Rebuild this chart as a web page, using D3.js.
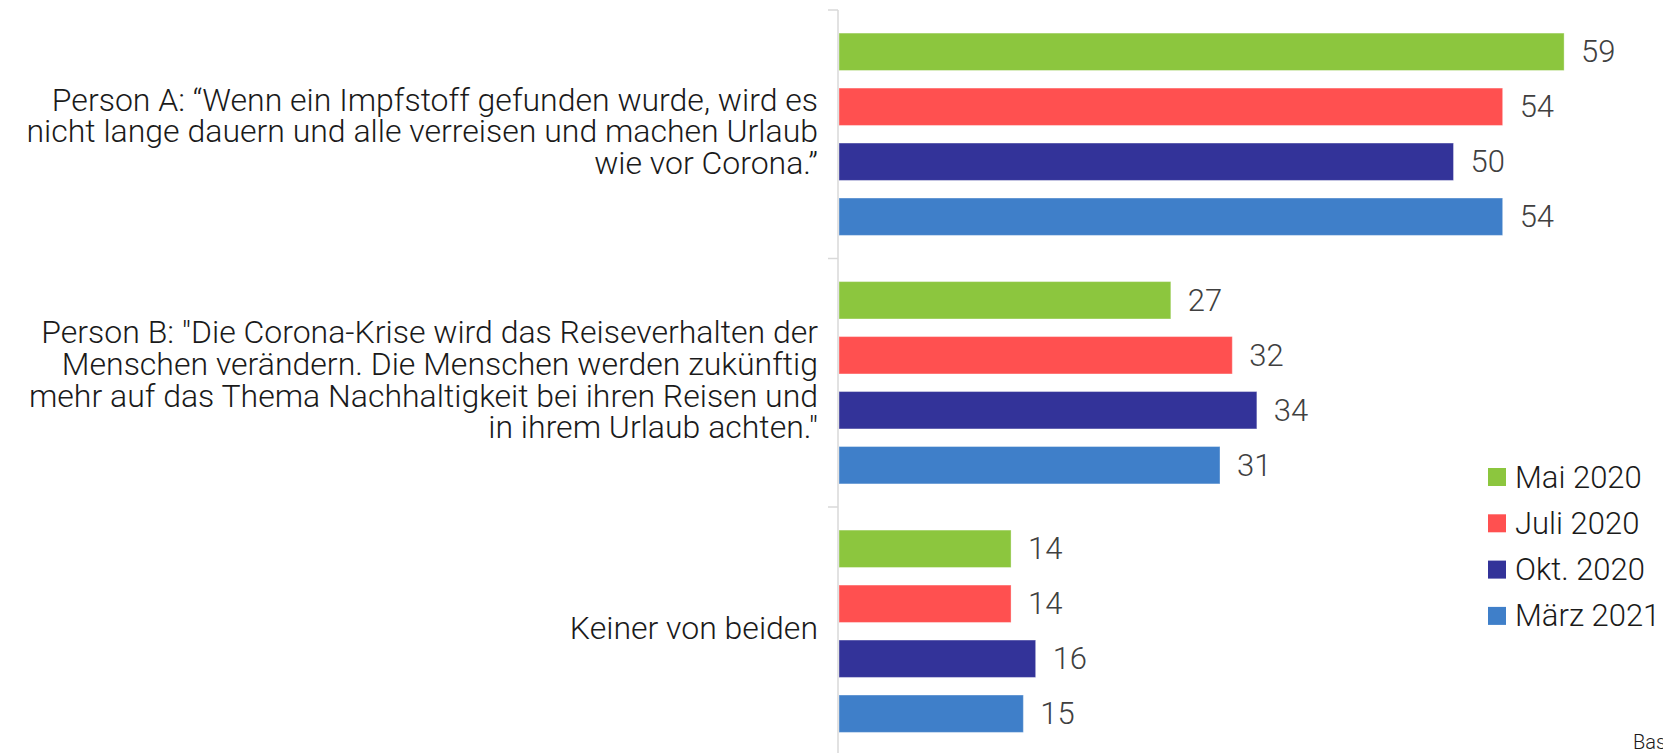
<!DOCTYPE html>
<html>
<head>
<meta charset="utf-8">
<script src="https://cdn.jsdelivr.net/npm/d3@7"></script>
<style>
  html, body { margin: 0; padding: 0; background: #fff; overflow: hidden; }
  svg { display: block; font-family: Roboto, "Noto Sans", sans-serif; }
</style>
</head>
<body>
<div id="chart"></div>
<script>
var categories = [
  ["Person A: \u201cWenn ein Impfstoff gefunden wurde, wird es",
   "nicht lange dauern und alle verreisen und machen Urlaub",
   "wie vor Corona.\u201d"],
  ["Person B: \"Die Corona-Krise wird das Reiseverhalten der",
   "Menschen ver\u00e4ndern. Die Menschen werden zuk\u00fcnftig",
   "mehr auf das Thema Nachhaltigkeit bei ihren Reisen und",
   "in ihrem Urlaub achten.\""],
  ["Keiner von beiden"]
];
var seriesNames = ["Mai 2020", "Juli 2020", "Okt. 2020", "M\u00e4rz 2021"];
var seriesColors = ["#8cc63e", "#ff5050", "#333399", "#3f7fc9"];
var mai2020 = [59, 27, 14];
var juli2020 = [54, 32, 14];
var okt2020 = [50, 34, 16];
var maerz2021 = [54, 31, 15];
var seriesValues = [mai2020, juli2020, okt2020, maerz2021];

var width = 1663, height = 753;
var axisX = 838;

var svg = d3.select("#chart").append("svg")
  .attr("width", width)
  .attr("height", height);

var y0 = d3.scaleBand()
  .domain(d3.range(categories.length))
  .range([10, 10 + 248.5 * 3]);

var y1 = d3.scaleBand()
  .domain(d3.range(seriesNames.length))
  .range([0, y0.bandwidth()])
  .paddingInner(0.32)
  .paddingOuter(0.42);

var x = d3.scaleLinear()
  .domain([0, 60])
  .range([axisX + 1, axisX + 1 + 60 * 12.29]);

// bars
var groups = svg.append("g").selectAll("g")
  .data(categories)
  .join("g")
  .attr("transform", function(d, i) { return "translate(0," + y0(i) + ")"; });

groups.each(function(d, ci) {
  var g = d3.select(this);
  seriesNames.forEach(function(name, si) {
    var v = seriesValues[si][ci];
    g.append("rect")
      .attr("x", x(0))
      .attr("y", y1(si))
      .attr("width", x(v) - x(0))
      .attr("height", y1.bandwidth())
      .attr("fill", seriesColors[si])
      .attr("stroke", "#ffffff")
      .attr("stroke-opacity", 0.35)
      .attr("stroke-width", 1);
    g.append("text")
      .attr("x", x(v) + 17)
      .attr("y", y1(si) + y1.bandwidth() / 2)
      .attr("dominant-baseline", "central")
      .attr("font-size", "31px")
      .attr("font-weight", 300)
      .attr("fill", "#404040")
      .text(v);
  });
});

// axis line + group ticks
svg.append("line")
  .attr("x1", axisX).attr("x2", axisX)
  .attr("y1", 10).attr("y2", height)
  .attr("stroke", "#d9d9d9").attr("stroke-width", 1.5);
svg.append("g").selectAll("line")
  .data(d3.range(categories.length + 1))
  .join("line")
  .attr("x1", axisX - 10).attr("x2", axisX)
  .attr("y1", function(i) { return i < categories.length ? y0(i) : y0(i - 1) + y0.bandwidth(); })
  .attr("y2", function(i) { return i < categories.length ? y0(i) : y0(i - 1) + y0.bandwidth(); })
  .attr("stroke", "#d9d9d9").attr("stroke-width", 1.5);

// category labels
var lineH = 31.7;
svg.append("g").selectAll("text")
  .data(categories)
  .join("text")
  .attr("text-anchor", "end")
  .attr("font-size", "32px")
  .attr("font-weight", 300)
  .attr("fill", "#1a1a1a")
  .each(function(lines, i) {
    var cy = y0(i) + y0.bandwidth() / 2 - 3;
    var start = cy - (lines.length - 1) * lineH / 2;
    d3.select(this).selectAll("tspan")
      .data(lines)
      .join("tspan")
      .attr("x", 818)
      .attr("y", function(l, j) { return start + j * lineH; })
      .attr("dominant-baseline", "central")
      .text(function(l) { return l; });
  });

// legend
var legend = svg.append("g").selectAll("g")
  .data(seriesNames)
  .join("g")
  .attr("transform", function(d, i) { return "translate(1488," + (468 + i * 46.3) + ")"; });
legend.append("rect")
  .attr("width", 18).attr("height", 18)
  .attr("fill", function(d, i) { return seriesColors[i]; });
legend.append("text")
  .attr("x", 27).attr("y", 9)
  .attr("dominant-baseline", "central")
  .attr("font-size", "31px")
  .attr("font-weight", 300)
  .attr("fill", "#1a1a1a")
  .text(function(d) { return d; });

svg.append("text")
  .attr("x", 1633).attr("y", 749)
  .attr("font-size", "20px")
  .attr("font-weight", 300)
  .attr("fill", "#1a1a1a")
  .text("Basis:");
</script>
</body>
</html>
